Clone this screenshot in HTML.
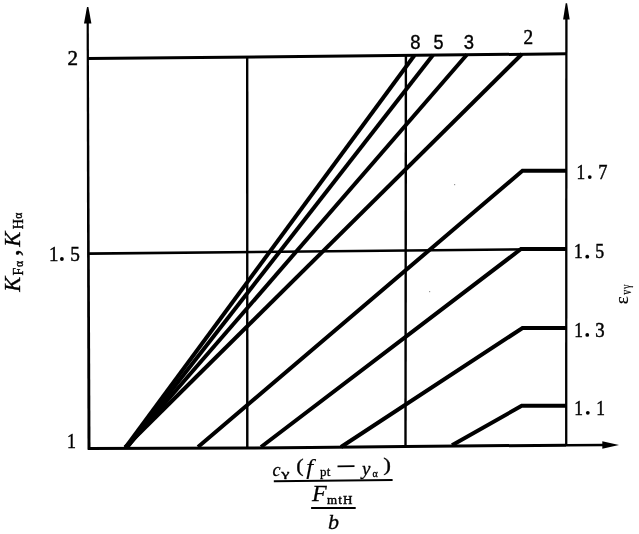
<!DOCTYPE html>
<html><head><meta charset="utf-8">
<style>
html,body{margin:0;padding:0;background:#fff;width:639px;height:534px;overflow:hidden}
svg{display:block;will-change:transform}
text{font-family:"Liberation Serif",serif;fill:#000;stroke:#000;stroke-width:0.2}
text.d{stroke-width:0.5}
text.a{font-family:"Liberation Sans",sans-serif;stroke-width:0.4}
text.i{font-style:italic}
.kl text{stroke-width:0.35}
.fr text{stroke-width:0.3}
</style></head><body>
<svg width="639" height="534" viewBox="0 0 639 534">
<g fill="none" stroke="#000" stroke-linecap="butt" stroke-linejoin="miter">
  <!-- axes -->
  <path d="M86.6 22 L88.8 22 L90.5 449.8 L87.5 449.8 Z" fill="#000" stroke="none"/>
  <path d="M566.4 18 L566.2 445" stroke-width="2.3"/>
  <path d="M88 448.5 L247 448 L310 447.5 L405 446.4 L566 445.2" stroke-width="3" stroke-linejoin="round"/>
  <path d="M566 445.2 L604 445" stroke-width="2.4"/>
  <!-- grid -->
  <path d="M88 58.6 L566.5 53.8" stroke-width="3"/>
  <path d="M88 253.6 L566.5 249" stroke-width="2.6"/>
  <path d="M247.2 57 L247.3 447.9" stroke-width="2.4"/>
  <path d="M405.9 55.5 L405.5 446.1" stroke-width="2.4"/>
  <!-- diagonals -->
  <g stroke-width="4">
    <path d="M125.5 447.5 L414.5 55.3"/>
    <path d="M127 447.5 L433 55"/>
    <path d="M126.5 447.5 L467 54.5"/>
    <path d="M125 447.5 L522 54"/>
    <path d="M198 447 L522.5 170.8 L566.3 170.8"/>
    <path d="M261 447 L521 249 L566.3 249"/>
    <path d="M341 447 L522.5 328 L566.3 328"/>
    <path d="M452 445.3 L521.7 405.8 L566.3 405.8"/>
  </g>
</g>
<!-- arrows -->
<path d="M87 7 L88.4 7 L91.4 23.5 L84 23.5 Z" fill="#000"/>
<path d="M565.7 3.2 L567.1 3.2 L569.7 19.5 L563.1 19.5 Z" fill="#000"/>
<path d="M619 445 L602.3 448.7 L602.3 441.3 Z" fill="#000"/>

<!-- left tick labels -->
<text class="d" x="-5.0" y="64.5" font-size="21" transform="translate(72.55 0) scale(1.0 1)">2</text>
<text class="d" x="-5.5" y="260.8" font-size="21" transform="translate(53.95 0) scale(0.9 1)">1</text>
<circle cx="61.9" cy="259.0" r="1.9"/>
<text class="d" x="-5.5" y="260.8" font-size="21" transform="translate(75.3 0) scale(0.92 1)">5</text>
<text class="d" x="-5.5" y="448.4" font-size="21" transform="translate(71.55 0) scale(0.85 1)">1</text>

<!-- top labels -->
<text class="a" x="409.6" y="48.9" font-size="20.5" transform="translate(415.3 0) scale(0.9 1) translate(-415.3 0)">8</text>
<text class="a" x="433" y="48.8" font-size="20" transform="translate(438.5 0) scale(0.9 1) translate(-438.5 0)">5</text>
<text class="a" x="463.3" y="48.9" font-size="20.5" transform="translate(469 0) scale(0.9 1) translate(-469 0)">3</text>
<text class="d" x="-5.0" y="43.6" font-size="21" transform="translate(528.15 0) scale(0.92 1)">2</text>

<!-- right labels -->
<text class="d" x="-5.5" y="178.9" font-size="20.4" transform="translate(581.15 0) scale(0.85 1)">1</text>
<circle cx="589.75" cy="177.1" r="1.9"/>
<text class="d" x="-5.5" y="178.9" font-size="20.4" transform="translate(603.1 0) scale(0.9 1)">7</text>

<text class="d" x="-5.5" y="258.5" font-size="20.4" transform="translate(578.6 0) scale(0.85 1)">1</text>
<circle cx="587.25" cy="256.7" r="1.9"/>
<text class="d" x="-5.5" y="258.5" font-size="20.4" transform="translate(600.1 0) scale(0.87 1)">5</text>

<text class="d" x="-5.5" y="336.7" font-size="20.4" transform="translate(578.8 0) scale(0.85 1)">1</text>
<circle cx="587.25" cy="334.9" r="1.9"/>
<text class="d" x="-5.5" y="336.7" font-size="20.4" transform="translate(600.3 0) scale(0.92 1)">3</text>

<text class="d" x="-5.5" y="414.6" font-size="20.4" transform="translate(579 0) scale(0.85 1)">1</text>
<circle cx="587.8" cy="412.8" r="1.9"/>
<text class="d" x="-5.5" y="414.6" font-size="20.4" transform="translate(600.9 0) scale(0.85 1)">1</text>

<!-- epsilon label rotated -->
<g transform="translate(628 303.5) rotate(-90)">
  <text x="-0.8" y="0" font-size="19">ε</text>
  <text x="-3.2" y="0" font-size="14" transform="translate(11.05 3.4) scale(0.72 1)">v</text>
  <text x="-3" y="0" font-size="12" transform="translate(17 2.3) scale(0.78 1)">γ</text>
</g>

<!-- K label rotated -->
<g class="kl" transform="translate(20 292) rotate(-90)">
  <text class="i" x="0.3" y="0" font-size="22.5">K</text>
  <text x="16.5" y="3" font-size="14">F</text>
  <text x="24.95" y="2.5" font-size="11.5">α</text>
  <text x="35.8" y="-1.5" font-size="28">,</text>
  <text class="i" x="45.3" y="0" font-size="22.5">K</text>
  <text x="62.7" y="2.5" font-size="14">H</text>
  <text x="73.2" y="2.1" font-size="11.5">α</text>
</g>

<g class="fr">
<!-- fraction numerator -->
<text class="i" x="272.5" y="475.6" font-size="18">c</text>
<text x="0" y="477.5" font-size="11" transform="translate(281.3 0) scale(1.7 1)">γ</text>
<text x="0" y="471.6" font-size="18.5" transform="translate(296.3 0) scale(1.2 1)">(</text>
<text class="i" x="0" y="474" font-size="20" transform="translate(306.3 0) scale(1.25 1)" style="stroke-width:0.1">f</text>
<text x="320" y="476.3" font-size="13" letter-spacing="0.3">pt</text>
<path d="M337.5 466.3 L354.5 466.1" stroke="#000" stroke-width="1.8"/>
<text class="i" x="362" y="474.5" font-size="19">y</text>
<text x="372.6" y="476.5" font-size="10">α</text>
<text x="0" y="471.5" font-size="18.5" transform="translate(383.3 0) scale(1.25 1)">)</text>
<path d="M273.8 481.2 L392.6 480" stroke="#000" stroke-width="1.9"/>
<!-- denominator -->
<text class="i" x="312" y="501.2" font-size="24">F</text>
<text x="327" y="503.5" font-size="13" letter-spacing="1.1" style="stroke-width:0.45">mtH</text>
<path d="M311.1 508 L355.7 508" stroke="#000" stroke-width="2.2"/>
<text class="i" x="328" y="528.5" font-size="22">b</text>
</g>
<rect x="429" y="291" width="1.2" height="1.2" fill="#999"/>
<rect x="454" y="184" width="1.2" height="1.2" fill="#999"/>
</svg>
</body></html>
